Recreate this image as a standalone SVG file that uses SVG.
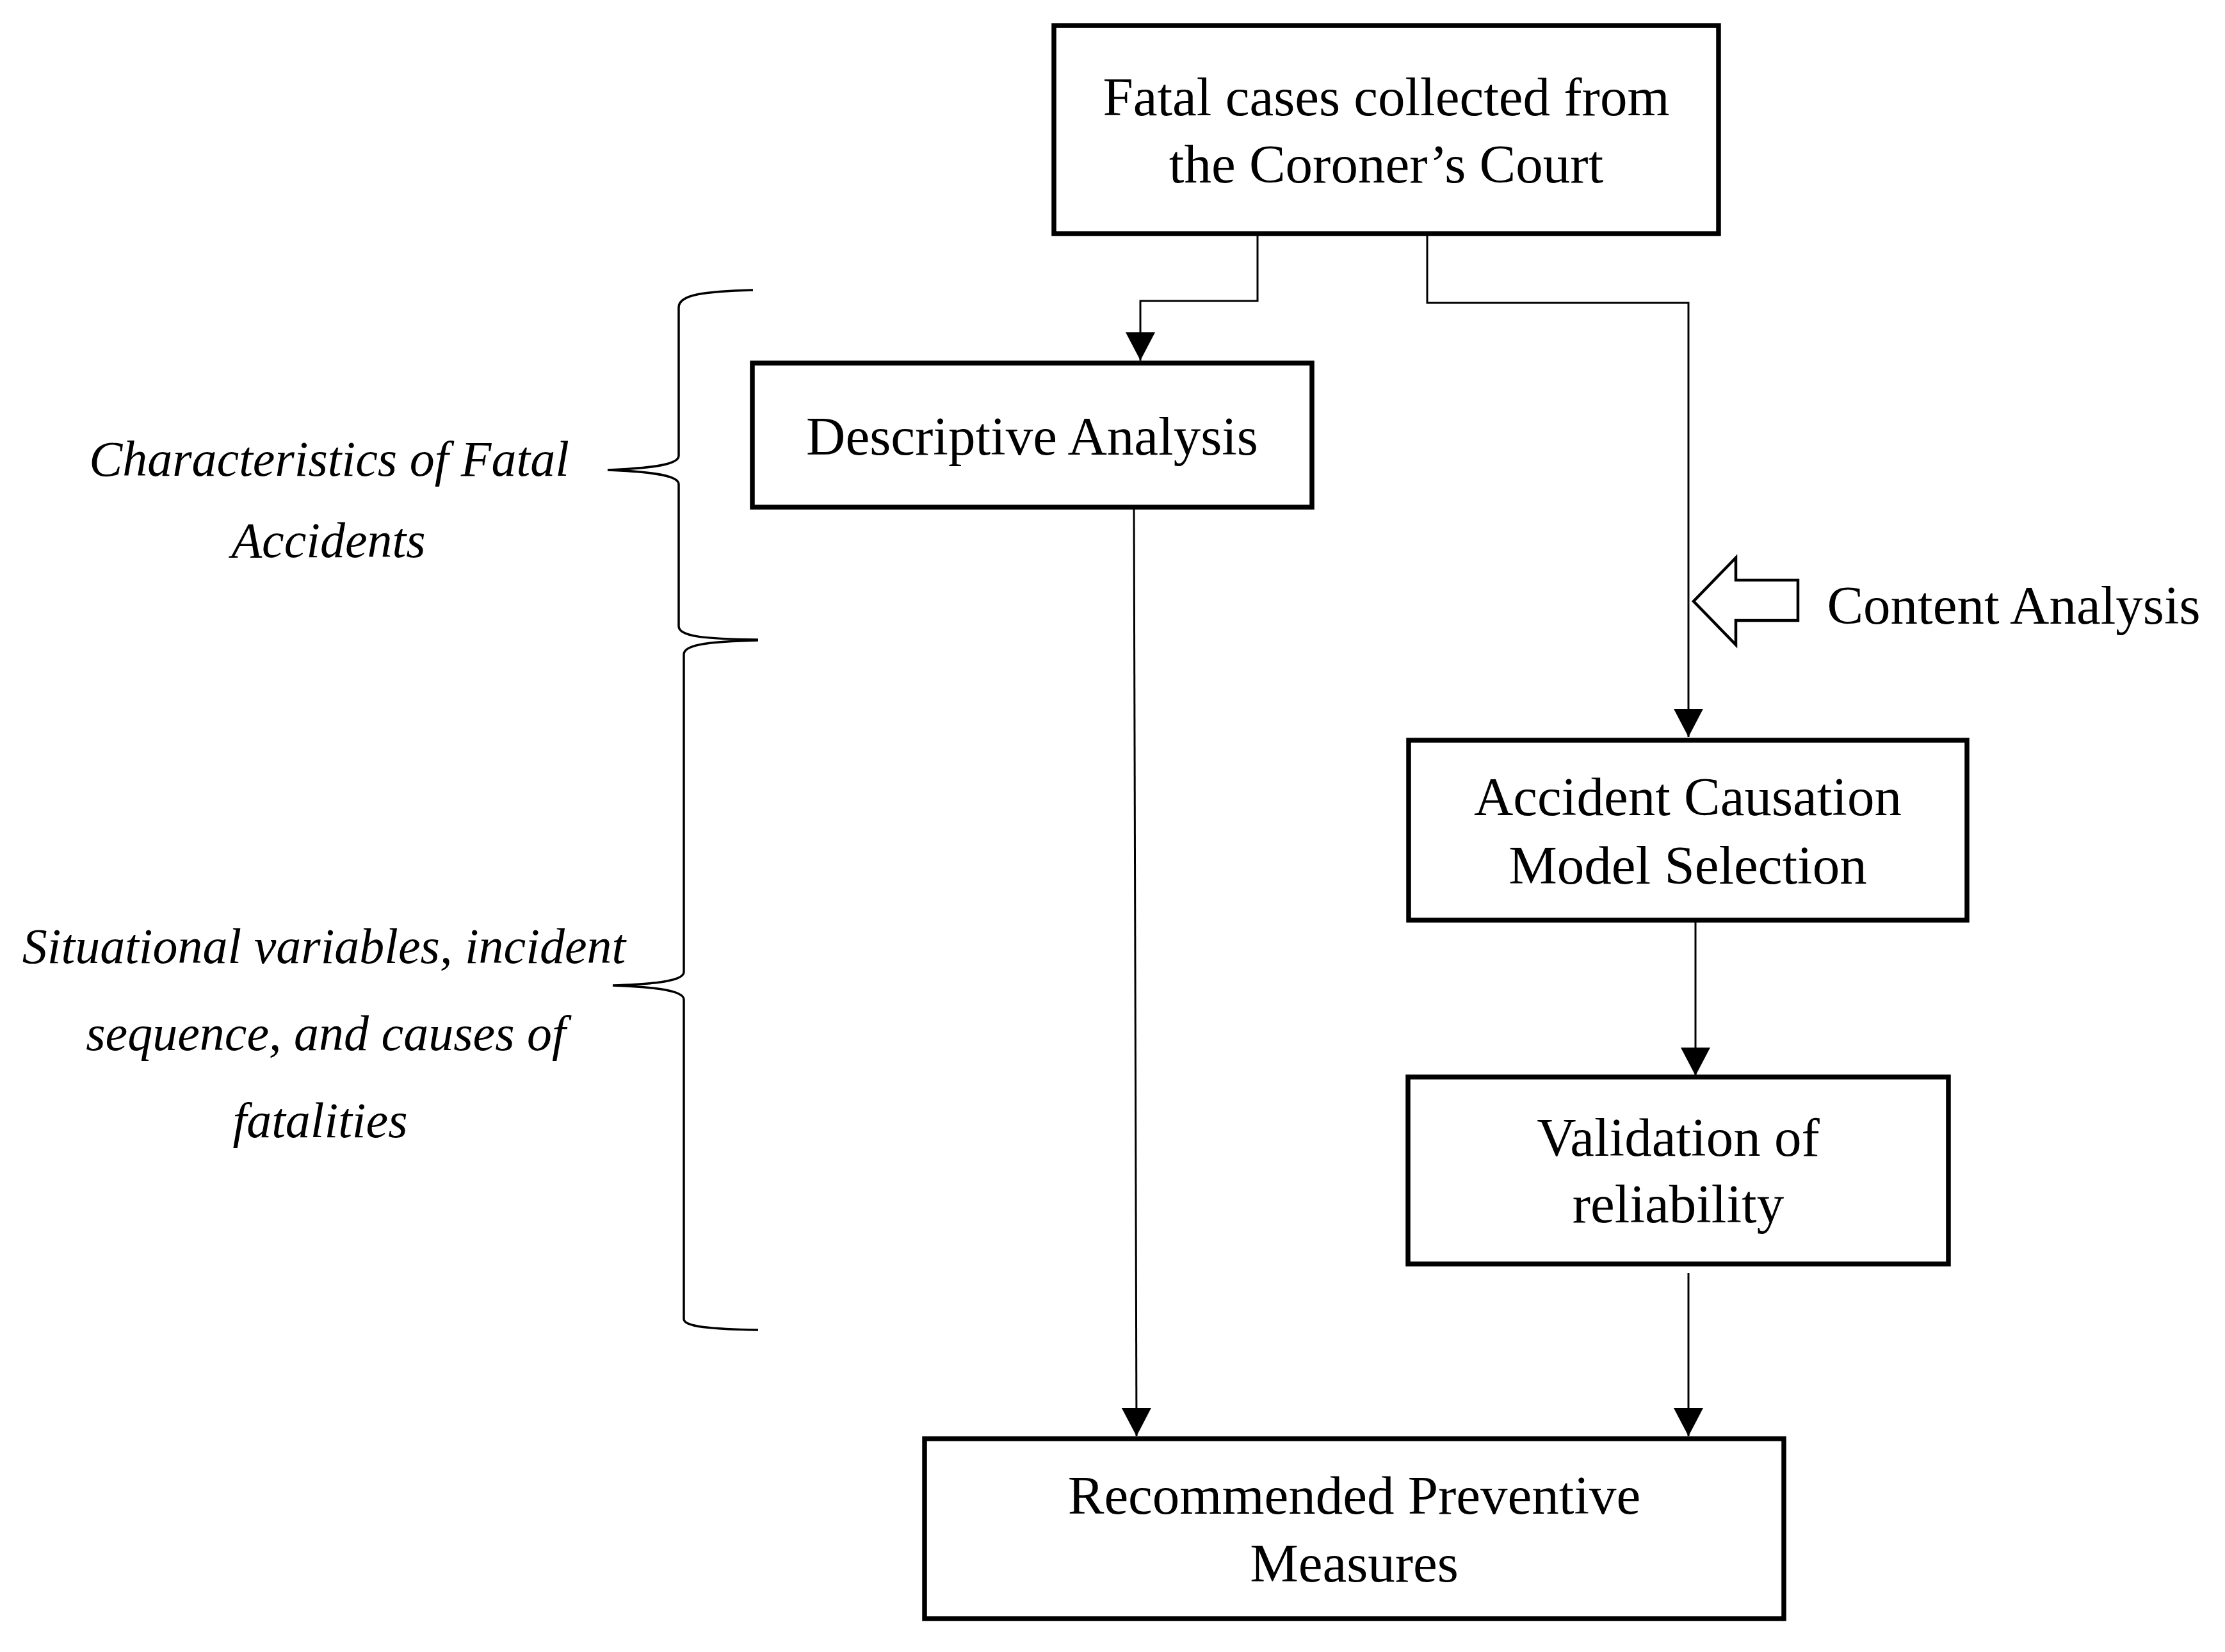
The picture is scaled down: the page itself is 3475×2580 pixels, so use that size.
<svg xmlns="http://www.w3.org/2000/svg" width="3475" height="2580" viewBox="0 0 3475 2580">
<style>
.box{fill:#fff;stroke:#000;stroke-width:7.5}
.t{font-family:"Liberation Serif","Times New Roman",serif;font-size:85px;fill:#000;text-anchor:middle}
.it{font-family:"Liberation Serif","Times New Roman",serif;font-size:78px;font-style:italic;fill:#000;text-anchor:middle}
.ln{fill:none;stroke:#000;stroke-width:3}
.br{fill:none;stroke:#000;stroke-width:3.5}
</style>
<defs>
<marker id="ah" viewBox="0 0 44 46" refX="44" refY="23" markerWidth="44" markerHeight="46" markerUnits="userSpaceOnUse" orient="auto">
<path d="M0,0 L44,23 L0,46 Z" fill="#000"/>
</marker>
</defs>
<rect width="3475" height="2580" fill="#fff"/>
<g id="connectors">
<polyline class="ln" points="1964,365 1964,470 1781,470 1781,563" marker-end="url(#ah)"/>
<polyline class="ln" points="2229,365 2229,473 2637,473 2637,1151" marker-end="url(#ah)"/>
<line class="ln" x1="1771" y1="792" x2="1775" y2="2243" marker-end="url(#ah)"/>
<line class="ln" x1="2648" y1="1437" x2="2648" y2="1680" marker-end="url(#ah)"/>
<line class="ln" x1="2637" y1="1988" x2="2637" y2="2243" marker-end="url(#ah)"/>
</g>
<g id="content-analysis">
<polygon points="2645,939 2711,871 2711,906 2808,906 2808,969 2711,969 2711,1007" fill="#fff" stroke="#000" stroke-width="4.5"/>
<text class="t" x="3145" y="974">Content Analysis</text>
</g>
<g id="node-fatal-cases">
<rect class="box" x="1646" y="40" width="1038" height="325"/>
<text class="t" x="2165" y="180">Fatal cases collected from</text>
<text class="t" x="2165" y="285">the Coroner’s Court</text>
</g>
<g id="node-descriptive">
<rect class="box" x="1175" y="567" width="874" height="225"/>
<text class="t" x="1612" y="710">Descriptive Analysis</text>
</g>
<g id="node-causation">
<rect class="box" x="2200" y="1156" width="872" height="281"/>
<text class="t" x="2636" y="1273">Accident Causation</text>
<text class="t" x="2636" y="1380">Model Selection</text>
</g>
<g id="node-validation">
<rect class="box" x="2199" y="1682" width="844" height="292"/>
<text class="t" x="2621" y="1805">Validation of</text>
<text class="t" x="2621" y="1909">reliability</text>
</g>
<g id="node-recommended">
<rect class="box" x="1444" y="2247" width="1342" height="281"/>
<text class="t" x="2115" y="2364">Recommended Preventive</text>
<text class="t" x="2115" y="2470">Measures</text>
</g>
<g id="brace-characteristics">
<path class="br" d="M1176,453 C1100,455 1060,460 1060,480 L1060,712 C1060,728 1000,732 949,734 C1000,736 1060,740 1060,756 L1060,978 C1060,994 1100,998 1184,999"/>
<text class="it" x="514" y="743">Characteristics of Fatal</text>
<text class="it" x="513" y="870">Accidents</text>
</g>
<g id="brace-situational">
<path class="br" d="M1184,1000 C1110,1002 1068,1006 1068,1022 L1068,1518 C1068,1534 1010,1537 957,1539 C1010,1541 1068,1545 1068,1561 L1068,2060 C1068,2072 1110,2076 1184,2077"/>
<text class="it" x="506" y="1504">Situational variables, incident</text>
<text class="it" x="509" y="1640">sequence, and causes of</text>
<text class="it" x="500" y="1776">fatalities</text>
</g>
</svg>
